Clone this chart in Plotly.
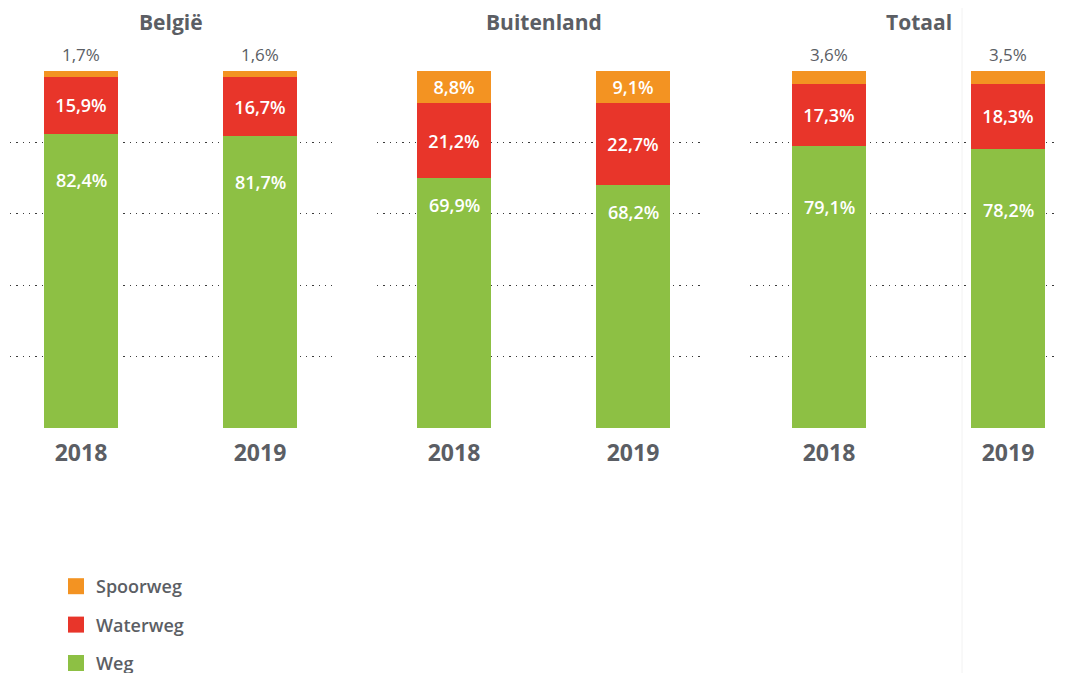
import plotly.graph_objects as go
from plotly.subplots import make_subplots

# ---- data ----
panels = ["België", "Buitenland", "Totaal"]
years = ["2018", "2019"]
weg = [[82.4, 81.7], [69.9, 68.2], [79.1, 78.2]]
waterweg = [[15.9, 16.7], [21.2, 22.7], [17.3, 18.3]]
spoorweg = [[1.7, 1.6], [8.8, 9.1], [3.6, 3.5]]
series_names = ["Weg", "Waterweg", "Spoorweg"]

# ---- style ----
OFF = 8                      # page body margin
W, H = 1067 - OFF, 700
GREEN, RED, ORANGE = "#8dc044", "#e8352a", "#f39322"
GRAY = "#5b5e64"
FONT = "Open Sans"
colors = {"Weg": GREEN, "Waterweg": RED, "Spoorweg": ORANGE}
dom_px = [(10, 332), (377, 705), (750, 1067)]
center0_px = [81, 454, 829]
step_px = 179
bar_w = 74 / step_px
green_shift = [-46, -27, -61]


def fx(px):
    return (px - OFF) / W


def fy(py):
    return 1 - (py - OFF) / H


def fmt(v):
    return f"{v:.1f}".replace(".", ",") + "%"


fig = make_subplots(rows=1, cols=3)

for i, p in enumerate(panels):
    col = i + 1
    vals = {"Weg": weg[i], "Waterweg": waterweg[i], "Spoorweg": spoorweg[i]}
    xr = "x" if i == 0 else f"x{col}"
    yr = "y" if i == 0 else f"y{col}"
    for name in series_names:
        v = vals[name]
        if name == "Weg":
            text, tp = None, "none"
        elif name == "Waterweg":
            text, tp = [fmt(x) for x in v], "inside"
        else:
            text = [fmt(x) if x > 5 else "" for x in v]
            tp = "inside"
        fig.add_trace(
            go.Bar(
                x=years, y=v, name=name, marker_color=colors[name],
                marker_line_width=0,
                width=bar_w, text=text, textposition=tp,
                insidetextanchor="middle",
                insidetextfont=dict(color="white", size=18, family=FONT, weight=600),
                constraintext="none", cliponaxis=False,
                showlegend=False, hoverinfo="skip",
            ),
            row=1, col=col,
        )
    # small top labels above bars
    for k, sv in enumerate(spoorweg[i]):
        if sv <= 5:
            fig.add_annotation(
                x=k, y=100, xref=xr, yref=yr, text=fmt(sv),
                showarrow=False, yanchor="bottom", yshift=3,
                font=dict(color=GRAY, size=17, family=FONT, weight=500),
            )
    # green labels
    for k, yv in enumerate(weg[i]):
        fig.add_annotation(
            x=k, y=yv, xref=xr, yref=yr, text=fmt(yv),
            showarrow=False, yanchor="middle", yshift=green_shift[i],
            font=dict(color="white", size=18, family=FONT, weight=600),
        )
    # panel title
    fig.add_annotation(
        x=0.5, y=fy(22), xref=xr, yref="paper", text=p,
        showarrow=False, yanchor="middle",
        font=dict(color=GRAY, size=21, family=FONT, weight="bold"),
    )
    x0, x1 = dom_px[i]
    c0 = center0_px[i]
    rng = [-(c0 - x0) / step_px, (x1 - c0) / step_px]
    fig.update_xaxes(
        domain=[fx(x0), min(fx(x1), 1.0)], range=rng, type="category",
        showgrid=False, showline=False, zeroline=False,
        tickfont=dict(color=GRAY, size=23, family=FONT, weight="bold"),
        ticklabelstandoff=9, ticks="",
        row=1, col=col,
    )
    fig.update_yaxes(
        domain=[fy(428), fy(71)], range=[0, 100],
        tickvals=[0, 20, 40, 60, 80], showticklabels=False,
        showgrid=True, gridcolor="#3a3a3a", gridwidth=1.3,
        griddash="1.3px,5px", zeroline=False, showline=False,
        row=1, col=col,
    )

# legend entries
for name in ["Spoorweg", "Waterweg", "Weg"]:
    fig.add_trace(
        go.Scatter(
            x=[None], y=[None], mode="markers", name=name,
            marker=dict(symbol="square", size=22, color=colors[name]),
            legendgroup=name, showlegend=True, hoverinfo="skip",
        ),
        row=1, col=1,
    )

fig.update_layout(
    width=W, height=H, barmode="stack",
    margin=dict(l=0, r=0, t=0, b=0),
    paper_bgcolor="white", plot_bgcolor="white",
    showlegend=True,
    legend=dict(
        x=fx(56), y=fy(568), xanchor="left", yanchor="top",
        orientation="v", traceorder="grouped", tracegroupgap=12,
        itemsizing="trace",
        font=dict(color=GRAY, size=18, family=FONT, weight=600),
        bgcolor="rgba(0,0,0,0)",
    ),
    font=dict(family=FONT, color=GRAY),
    shapes=[dict(type="line", xref="paper", yref="paper",
                 x0=fx(962), x1=fx(962), y0=0, y1=1,
                 line=dict(color="#f2f2f2", width=1), layer="below")],
)

fig.write_html("out.html")
